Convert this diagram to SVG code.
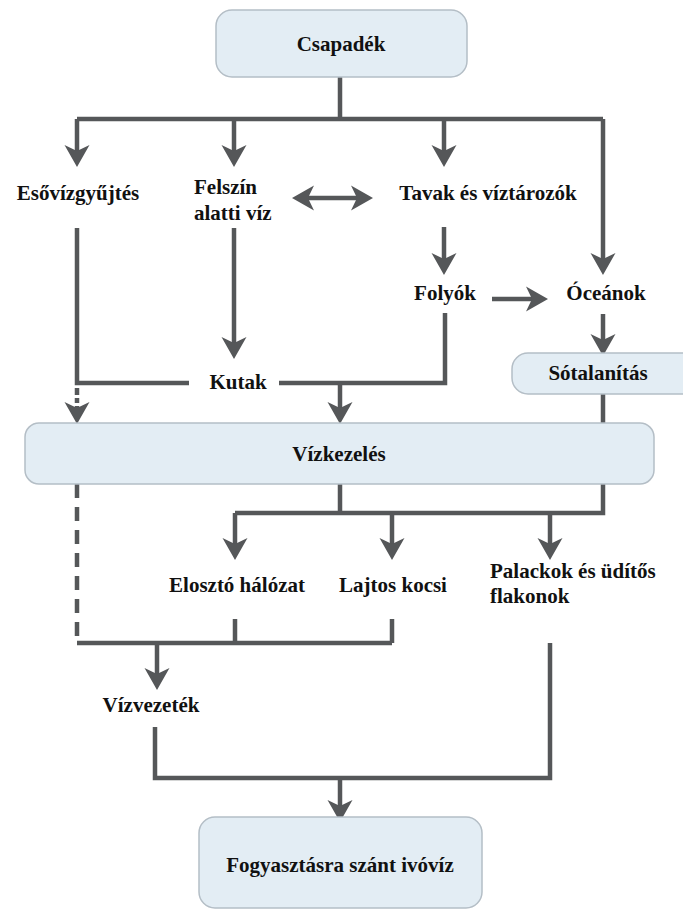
<svg xmlns="http://www.w3.org/2000/svg" width="683" height="911" viewBox="0 0 683 911">
<defs>
<style>
.box{fill:#e3edf4;stroke:#b4bec6;stroke-width:1.5}
text{font-family:"Liberation Serif",Tinos,"Times New Roman",Times,serif;font-weight:bold;font-size:21px;fill:#111}
.c{text-anchor:middle}
.ln{fill:none;stroke:#555759;stroke-width:4.5}
.ar{marker-end:url(#ah)}
.dash{stroke-dasharray:14 9}
</style>
<marker id="ah" markerUnits="userSpaceOnUse" viewBox="-24 -13 26 26" markerWidth="26" markerHeight="26" refX="-6" refY="0" orient="auto-start-reverse">
<path d="M0,0 L-22,-12.5 L-16,0 L-22,12.5 Z" fill="#555759"/>
</marker>
</defs>
<rect width="683" height="911" fill="#fff"/>
<g id="connectors">
<path class="ln" d="M340,77 V119 M77,119 H603"/>
<path class="ln ar" d="M77,119 V161"/>
<path class="ln ar" d="M234,119 V161"/>
<path class="ln ar" d="M444,119 V161"/>
<path class="ln ar" d="M603,119 V269"/>
<path class="ln ar" d="M298,198 H367" marker-start="url(#ah)"/>
<path class="ln" d="M77,228 V383 H189"/>
<path class="ln ar" d="M234,228 V353"/>
<path class="ln ar" d="M444,227 V269"/>
<path class="ln ar" d="M492,299 H542"/>
<path class="ln ar" d="M603,314 V350"/>
<path class="ln" d="M603,394 V423"/>
<path class="ln" d="M279,383 H445 V313"/>
<path class="ln ar" d="M340,383 V418"/>
<path class="ln ar" d="M77,388 V418" style="stroke-dasharray:7 3 5 3 100"/>
<path class="ln" d="M340,484 V513 M235,513 H603 V484"/>
<path class="ln ar" d="M235,513 V554"/>
<path class="ln ar" d="M392,513 V554"/>
<path class="ln ar" d="M550,513 V554"/>
<path class="ln dash" d="M77,484 V643"/>
<path class="ln" d="M77,643 H392 M235,619 V643 M392,619 V643"/>
<path class="ln ar" d="M157,643 V684"/>
<path class="ln" d="M155,727 V778 H550 V643"/>
<path class="ln ar" d="M340,778 V816"/>
</g>
<g id="csapadek"><rect class="box" x="216" y="10" width="251" height="67" rx="16"/><text class="c" x="341" y="51" font-family="Liberation Serif">Csapadék</text></g>
<g id="esovizgyujtes"><text class="c" x="78" y="200">Esővízgyűjtés</text></g>
<g id="felszin-alatti-viz"><text x="194" y="194">Felszín</text><text x="194" y="220">alatti víz</text></g>
<g id="tavak"><text class="c" x="488" y="200">Tavak és víztározók</text></g>
<g id="folyok"><text class="c" x="445" y="300">Folyók</text></g>
<g id="oceanok"><text class="c" x="606" y="300">Óceánok</text></g>
<g id="sotalanitas"><rect class="box" x="512" y="353" width="190" height="41" rx="16"/><text class="c" x="598" y="380">Sótalanítás</text></g>
<g id="kutak"><text class="c" x="238" y="389">Kutak</text></g>
<g id="vizkezeles"><rect class="box" x="25" y="423" width="629" height="61" rx="14"/><text class="c" x="339" y="461">Vízkezelés</text></g>
<g id="eloszto"><text class="c" x="237" y="592">Elosztó hálózat</text></g>
<g id="lajtos"><text class="c" x="393" y="592">Lajtos kocsi</text></g>
<g id="palackok"><text x="490" y="578">Palackok és üdítős</text><text x="490" y="603">flakonok</text></g>
<g id="vizvezetek"><text class="c" x="151" y="712">Vízvezeték</text></g>
<g id="ivoviz"><rect class="box" x="199" y="817" width="283" height="91" rx="16"/><text class="c" x="340" y="872">Fogyasztásra szánt ivóvíz</text></g>
</svg>
